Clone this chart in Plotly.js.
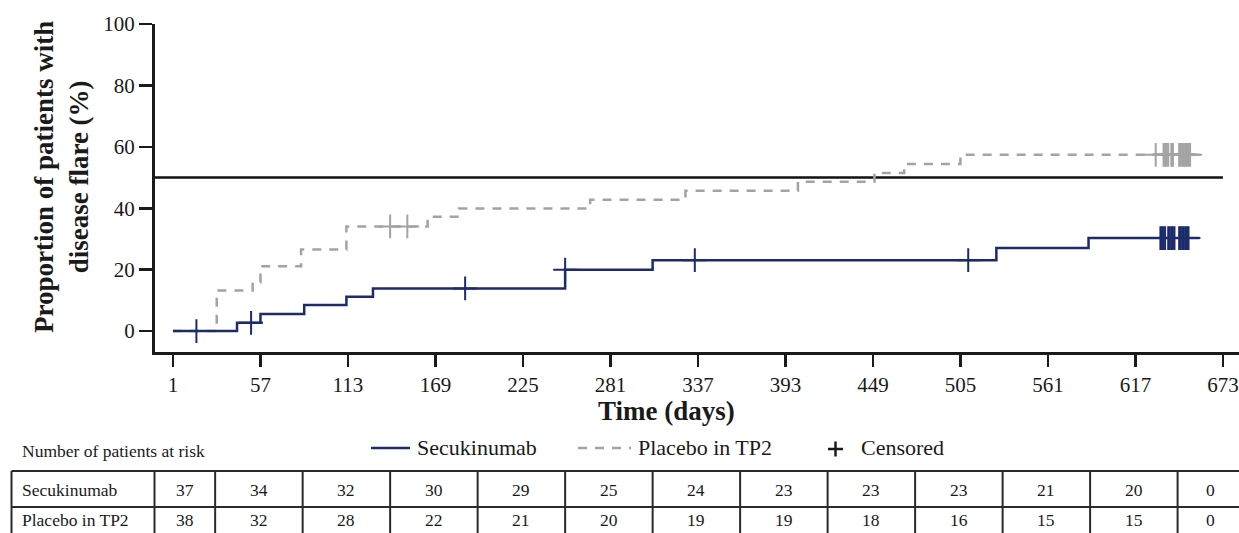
<!DOCTYPE html>
<html><head><meta charset="utf-8">
<script src="https://cdn.plot.ly/plotly-3.0.1.min.js"></script>
<style>html,body{margin:0;padding:0;background:#fff}#chart{width:1239px;height:533px}</style>
</head><body><div id="chart"></div>
<script>
// ---- data ----
const xTicks = [1,57,113,169,225,281,337,393,449,505,561,617,673];
const yTicks = [0,20,40,60,80,100];
const secTimes  = [1,42,57,85,112,129,252,308,528,587,658];
const secValues = [0,2.7,5.6,8.5,11.2,13.9,20.0,23.1,27.1,30.3,30.3];
const pboTimes  = [1,29,52,57,83,112,164,184,268,329,401,450,469,505,659];
const pboValues = [0,13.2,15.9,21.1,26.6,34.1,37.2,39.9,42.8,45.7,48.6,51.5,54.4,57.4,57.4];
const secCensorDays = [16,51,188,252,335,510,633,634,635,636,638,639,640,641,642,645,646,647,648,649,650,651];
const pboCensorDays = [140,151,630,635,636,637,638,640,641,645,646,647,648,649,650,651,652];
const riskTitle = 'Number of patients at risk';
const riskLabels = ['Secukinumab','Placebo in TP2'];
const secAtRisk = [37,34,32,30,29,25,24,23,23,23,21,20,0];
const pboAtRisk = [38,32,28,22,21,20,19,19,18,16,15,15,0];
const refLevel = 50;
const seriesNames = ['Secukinumab','Placebo in TP2','Censored'];

// ---- style ----
const NAVY = '#1c2b6b', GRAY = '#a3a3a3', INK = '#1a1a1a';
const FONT = 'Liberation Serif, Times New Roman, serif';
const W = 1239, H = 533, ML = 155, MR = 0, MT = 24, MB = 181;
const PW = W - ML - MR, PH = H - MT - MB;
const px2x = px => (px - ML) / PW;
const py2y = py => (H - MB - py) / PH;

function stepAt(times, vals, t) {
  let v = vals[0];
  for (let i = 0; i < times.length; i++) if (times[i] <= t) v = vals[i];
  return v;
}

const traces = [
  {x: pboTimes, y: pboValues, mode: 'lines', line: {shape: 'hv', color: GRAY, width: 2.5, dash: '9px,8px'}, hoverinfo: 'skip'},
  {x: pboCensorDays, y: pboCensorDays.map(t => stepAt(pboTimes, pboValues, t)), mode: 'markers',
   marker: {symbol: 'cross-thin', size: 17, line: {color: GRAY, width: 2}}, hoverinfo: 'skip'},
  {x: secTimes, y: secValues, mode: 'lines', line: {shape: 'hv', color: NAVY, width: 2.5}, hoverinfo: 'skip'},
  {x: secCensorDays, y: secCensorDays.map(t => stepAt(secTimes, secValues, t)), mode: 'markers',
   marker: {symbol: 'cross-thin', size: 17, line: {color: NAVY, width: 2}}, hoverinfo: 'skip'}
];

const shapes = [];
const annotations = [];
// reference line
shapes.push({type: 'line', xref: 'x', yref: 'y', x0: -10.5, x1: xTicks[xTicks.length - 1], y0: refLevel, y1: refLevel,
  line: {color: '#111', width: 2.5}, layer: 'below'});

// table borders
const tTop = py2y(471), tMid = py2y(507), tBot = py2y(540);
const BORDER = {color: '#2a2a2a', width: 2};
shapes.push({type: 'line', xref: 'paper', yref: 'paper', x0: px2x(11.5), x1: 1.01, y0: tTop, y1: tTop, line: BORDER});
shapes.push({type: 'line', xref: 'paper', yref: 'paper', x0: px2x(11.5), x1: 1.01, y0: tMid, y1: tMid, line: BORDER});
shapes.push({type: 'line', xref: 'paper', yref: 'paper', x0: px2x(11.5), x1: px2x(11.5), y0: tTop, y1: tBot, line: BORDER});
shapes.push({type: 'line', xref: 'paper', yref: 'paper', x0: px2x(154.5), x1: px2x(154.5), y0: tTop, y1: tBot, line: BORDER});
xTicks.slice(0, xTicks.length - 1).forEach(t => {
  shapes.push({type: 'line', xref: 'x', yref: 'paper', x0: t + 27, x1: t + 27, y0: tTop, y1: tBot, line: BORDER});
});

// table text
const rowY = [py2y(490), py2y(520)];
[secAtRisk, pboAtRisk].forEach((row, r) => {
  annotations.push({xref: 'paper', yref: 'paper', x: px2x(20), y: rowY[r], xanchor: 'left', yanchor: 'middle',
    text: riskLabels[r], showarrow: false, font: {family: FONT, size: 17.5, color: INK}});
  row.forEach((v, i) => {
    const shift = i === 0 ? 12 : (i === row.length - 1 ? -12.5 : -1.5);
    annotations.push({xref: 'x', yref: 'paper', x: xTicks[i], xshift: shift, y: rowY[r], xanchor: 'center', yanchor: 'middle',
      text: String(v), showarrow: false, font: {family: FONT, size: 17.5, color: INK}});
  });
});
annotations.push({xref: 'paper', yref: 'paper', x: px2x(20), y: py2y(451), xanchor: 'left', yanchor: 'middle',
  text: riskTitle, showarrow: false, font: {family: FONT, size: 17.5, color: INK}});

// legend
const ly = py2y(448);
shapes.push({type: 'line', xref: 'paper', yref: 'paper', x0: px2x(371), x1: px2x(410), y0: ly, y1: ly, line: {color: NAVY, width: 2.5}});
shapes.push({type: 'line', xref: 'paper', yref: 'paper', x0: px2x(578), x1: px2x(631), y0: ly, y1: ly, line: {color: GRAY, width: 2.5, dash: '9px,8px'}});
shapes.push({type: 'line', xref: 'paper', yref: 'paper', x0: px2x(828), x1: px2x(843), y0: py2y(449), y1: py2y(449), line: {color: INK, width: 2.5}});
shapes.push({type: 'line', xref: 'paper', yref: 'paper', x0: px2x(835.5), x1: px2x(835.5), y0: py2y(441.5), y1: py2y(456.5), line: {color: INK, width: 2.5}});
[[415, seriesNames[0]], [636, seriesNames[1]], [859, seriesNames[2]]].forEach(([px, txt]) => {
  annotations.push({xref: 'paper', yref: 'paper', x: px2x(px), y: py2y(447), xanchor: 'left', yanchor: 'middle',
    text: txt, showarrow: false, font: {family: FONT, size: 22, color: INK}});
});

// axis titles
annotations.push({xref: 'paper', yref: 'paper', x: px2x(666), y: py2y(411), xanchor: 'center', yanchor: 'middle',
  text: '<b>Time (days)</b>', showarrow: false, font: {family: FONT, size: 27, color: INK}});
annotations.push({xref: 'paper', yref: 'paper', x: px2x(61), y: py2y(177), xanchor: 'center', yanchor: 'middle', textangle: -90,
  text: '<b>Proportion of patients with<br>disease flare (%)</b>', showarrow: false, font: {family: FONT, size: 27, color: INK}});

const layout = {
  width: W, height: H,
  margin: {l: ML, r: MR, t: MT, b: MB, pad: 0},
  paper_bgcolor: '#fff', plot_bgcolor: '#fff',
  showlegend: false,
  font: {family: FONT, color: INK},
  xaxis: {range: [-10.5, 683.3], tickvals: xTicks, ticktext: xTicks.map(String), ticks: 'outside', ticklen: 12, tickwidth: 2.5,
    tickcolor: INK, showline: true, linewidth: 3, linecolor: INK, showgrid: false, zeroline: false,
    tickfont: {family: FONT, size: 21, color: INK}},
  yaxis: {range: [-6.8, 100], tickvals: yTicks, ticks: 'outside', ticklen: 13, tickwidth: 2.5,
    tickcolor: INK, showline: true, linewidth: 3, linecolor: INK, showgrid: false, zeroline: false,
    tickfont: {family: FONT, size: 21, color: INK}},
  shapes: shapes,
  annotations: annotations
};

Plotly.newPlot('chart', traces, layout, {staticPlot: true, displayModeBar: false});
</script>
</body></html>
